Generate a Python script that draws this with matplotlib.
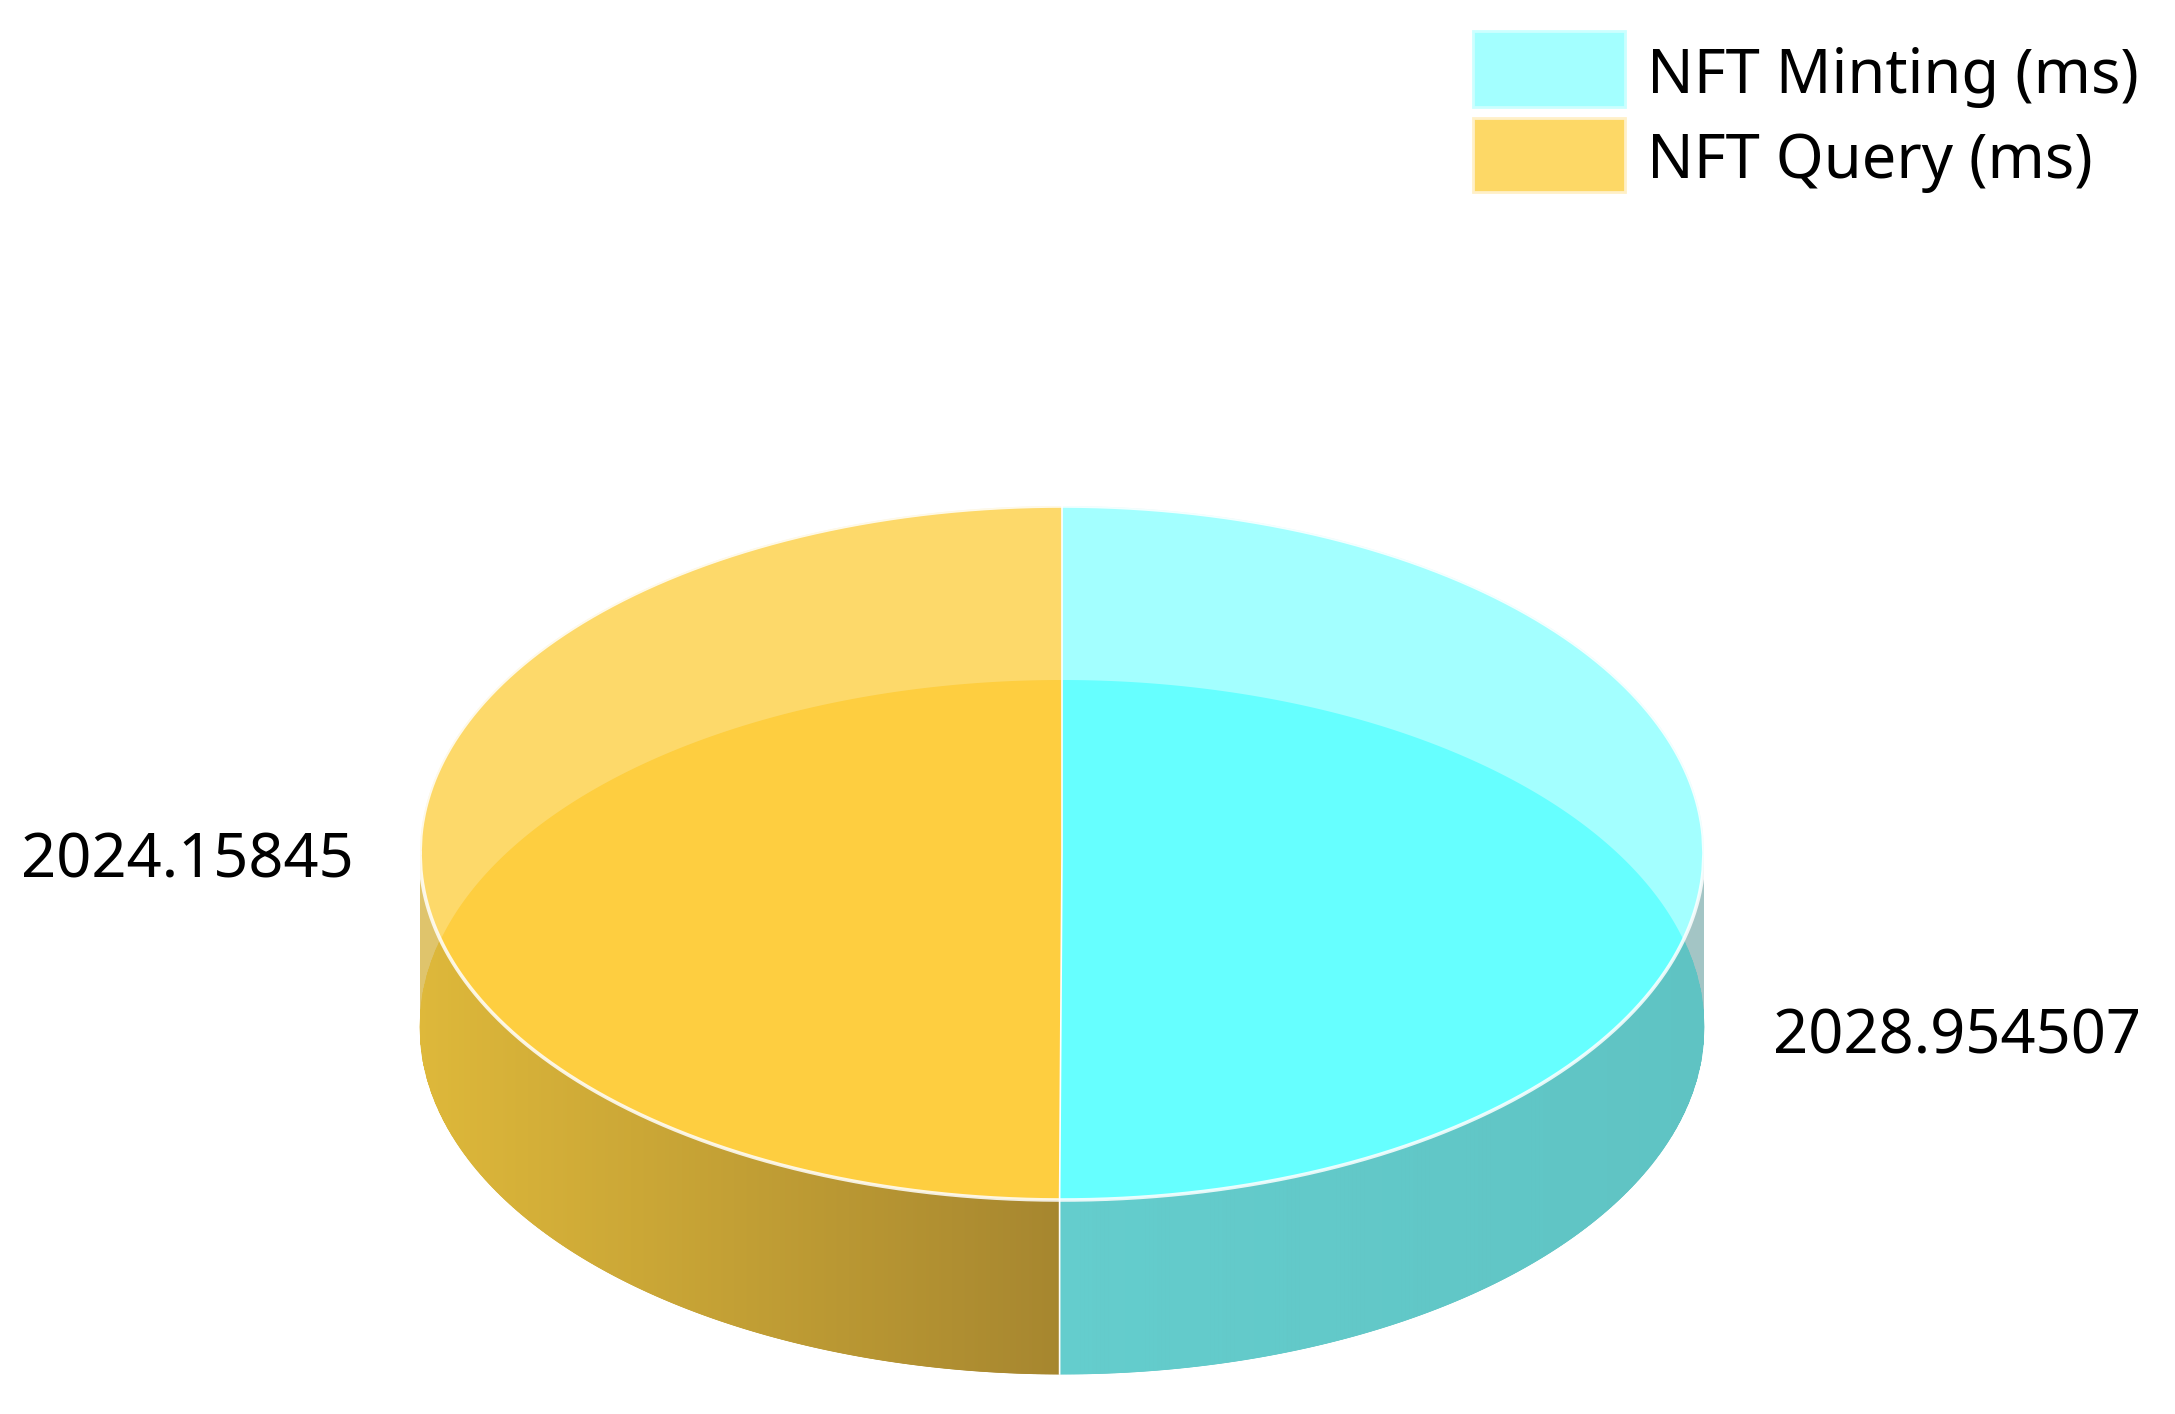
import numpy as np
import matplotlib
matplotlib.use("Agg")
import matplotlib.pyplot as plt
from matplotlib.patches import Polygon, Rectangle
from matplotlib.collections import PolyCollection
from matplotlib.colors import to_rgb

plt.rcParams['font.family'] = ['Noto Sans', 'DejaVu Sans']

# ---- data ----
categories = ["NFT Minting (ms)", "NFT Query (ms)"]
values = [2028.954507, 2024.15845]
value_labels = ["2028.954507", "2024.15845"]

# ---- styles (per slice) ----
top_light = ["#A3FFFF", "#FDD96A"]
top_sat = ["#66FFFF", "#FECE40"]
wall_edge = ["#A3C5C5", "#DFC46C"]
wall_from = ["#64CDCD", "#A6862F"]   # colour at the split (centre)
wall_to = ["#5FC3C3", "#DEB83A"]     # colour at the outer edge
legend_fill = ["#A3FFFF", "#FDD866"]
legend_edge = ["#CCFFFF", "#FFF0C8"]

W, H = 2175, 1414
fig = plt.figure(figsize=(W / 100, H / 100), dpi=100)
ax = fig.add_axes([0, 0, 1, 1])
ax.set_xlim(0, W)
ax.set_ylim(H, 0)
ax.axis('off')

cx, cy1, a, b, depth = 1062, 853, 642, 347, 174
cy2 = cy1 + depth

total = sum(values)
theta_split = 2 * np.pi * values[0] / total   # clockwise from 12 o'clock
xs = cx + a * np.sin(theta_split)
ys_top = cy1 - b * np.cos(theta_split)

X = np.linspace(cx - a, cx + a, 1601)
S = np.sqrt(np.clip(1 - ((X - cx) / a) ** 2, 0, 1))

# split boundary polyline (top to bottom)
B = [(cx, -50), (cx, cy1), (xs, ys_top), (xs, H + 50)]
clips = [
    B + [(W + 50, H + 50), (W + 50, -50)],
    B + [(-50, H + 50), (-50, -50)],
]
sides = [1, -1]

sil = np.vstack([np.column_stack([X, cy1 - b * S]),
                 np.column_stack([X[::-1], (cy2 + b * S)[::-1]])])
top = np.vstack([np.column_stack([X, cy1 - b * S]),
                 np.column_stack([X[::-1], (cy1 + b * S)[::-1]])])
m = 2 * b * S > depth
Xm, Sm = X[m], S[m]
ovl = np.vstack([np.column_stack([Xm, cy2 - b * Sm]),
                 np.column_stack([Xm[::-1], (cy1 + b * Sm)[::-1]])])

lo = np.maximum(cy1 + b * S, cy2 - b * S)
hi = cy2 + b * S

for i in range(len(values)):
    clip = Polygon(clips[i], closed=True, transform=ax.transData)
    # wall (outside bottom face)
    p = Polygon(sil, closed=True, facecolor=wall_edge[i], edgecolor='none', zorder=1)
    ax.add_patch(p); p.set_clip_path(clip)
    # wall with gradient
    quads, cols = [], []
    c0, c1 = np.array(to_rgb(wall_from[i])), np.array(to_rgb(wall_to[i]))
    for k in range(len(X) - 1):
        xm = 0.5 * (X[k] + X[k + 1])
        if sides[i] * (xm - cx) < -5:
            continue
        t = np.clip(abs(xm - cx) / a, 0, 1)
        quads.append([(X[k], lo[k]), (X[k + 1], lo[k + 1]), (X[k + 1], hi[k + 1]), (X[k], hi[k])])
        cols.append(c0 + (c1 - c0) * t)
    pc = PolyCollection(quads, facecolors=cols, edgecolors=cols, linewidths=0.6, zorder=2)
    ax.add_collection(pc); pc.set_clip_path(clip)
    # top face
    p = Polygon(top, closed=True, facecolor=top_light[i], edgecolor='none', zorder=3)
    ax.add_patch(p); p.set_clip_path(clip)
    # overlap (bottom face seen through top)
    p = Polygon(ovl, closed=True, facecolor=top_sat[i], edgecolor='none', zorder=4)
    ax.add_patch(p); p.set_clip_path(clip)

# rim and split lines
ax.plot(top[:, 0], top[:, 1], color='white', lw=2.6, alpha=0.85, zorder=5)
ax.plot([cx, cx, xs, xs], [cy1 - b, cy1, ys_top, cy2 + b], color='white', lw=1.2, zorder=6)

# data labels
ax.text(cx - a - 66, 877, value_labels[1], ha='right', va='baseline', fontsize=44.2, color='black')
ax.text(cx + a + 69, 1054, value_labels[0], ha='left', va='baseline', fontsize=44.2, color='black')

# legend
sw = [(1473, 31, 152, 76), (1473, 118, 152, 74)]
base = [93, 178]
for i, name in enumerate(categories):
    x0, y0, w, h = sw[i]
    ax.add_patch(Rectangle((x0, y0), w, h, facecolor=legend_fill[i], edgecolor=legend_edge[i], lw=2, zorder=7))
    ax.text(1647, base[i], name, ha='left', va='baseline', fontsize=44.2, color='black', zorder=7)

fig.savefig("out.png", dpi=100)
